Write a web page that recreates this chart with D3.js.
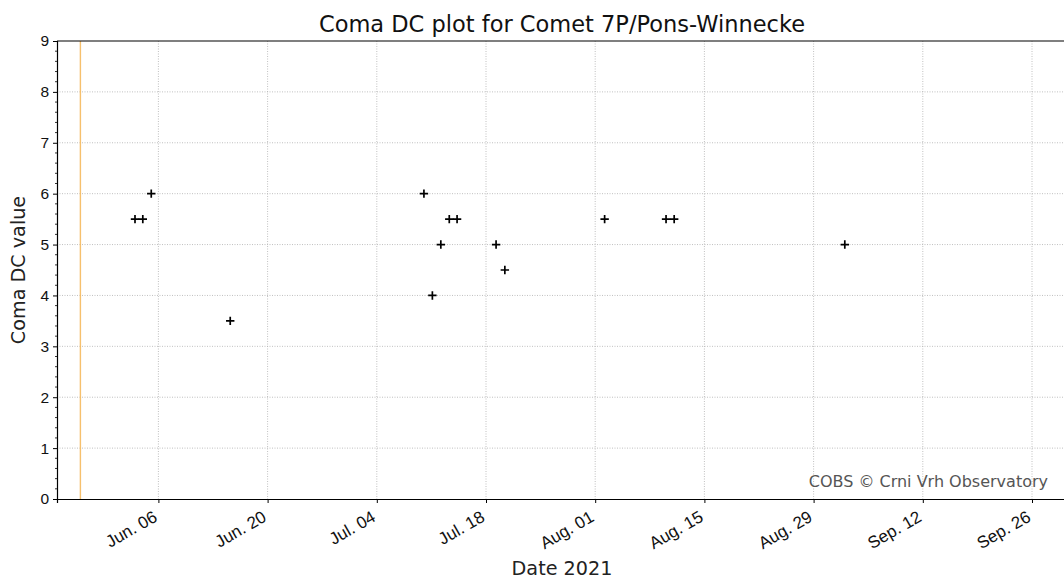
<!DOCTYPE html>
<html>
<head>
<meta charset="utf-8">
<script src="https://cdn.jsdelivr.net/npm/d3@7"></script>
<style>
  html, body { margin: 0; padding: 0; background: #fff; }
  svg { display: block; font-family: "DejaVu Sans", sans-serif; }
</style>
</head>
<body>
<svg id="chart" width="1064" height="580"></svg>
<script>
// ---- data ----
const obsDates = ["2021-06-03T00:00","2021-06-04T00:00","2021-06-05T02:00","2021-06-15T05:00",
  "2021-07-10T01:00","2021-07-11T03:00","2021-07-12T05:00","2021-07-13T07:00","2021-07-14T07:00",
  "2021-07-19T07:00","2021-07-20T10:00","2021-08-02T05:00","2021-08-10T02:00","2021-08-11T03:00",
  "2021-09-02T00:00"];
const dcValues = [5.5, 5.5, 6.0, 3.5, 6.0, 4.0, 5.0, 5.5, 5.5, 5.0, 4.5, 5.5, 5.5, 5.5, 5.0];
const xTickDates = ["2021-06-06","2021-06-20","2021-07-04","2021-07-18","2021-08-01","2021-08-15","2021-08-29","2021-09-12","2021-09-26"];
const xTickLabels = ["Jun. 06","Jun. 20","Jul. 04","Jul. 18","Aug. 01","Aug. 15","Aug. 29","Sep. 12","Sep. 26"];
const yTicks = [0,1,2,3,4,5,6,7,8,9];
const perihelionDate = "2021-05-27";
const xDomain = ["2021-05-24", "2021-10-01"];
const yDomain = [0, 9];
const titleText = "Coma DC plot for Comet 7P/Pons-Winnecke";
const xLabel = "Date 2021";
const yLabel = "Coma DC value";
const credit = "COBS \u00A9 Crni Vrh Observatory";

// ---- layout ----
const svg = d3.select("#chart");
const m = { left: 57, top: 41, bottom: 499 };
const parse = d3.isoParse;
const x = d3.scaleTime().domain(xDomain.map(parse)).range([m.left, m.left + (parse(xDomain[1]) - parse(xDomain[0])) / 864e5 * 7.8]);
const y = d3.scaleLinear().domain(yDomain).range([m.bottom, m.top]);
const right = 1067;

// grid
const grid = svg.append("g");
grid.selectAll("line.gx").data(xTickDates).join("line")
  .attr("x1", d => x(parse(d))).attr("x2", d => x(parse(d)))
  .attr("y1", m.top).attr("y2", m.bottom)
  .attr("stroke", "#b0b0b0").attr("stroke-width", 0.8).attr("stroke-dasharray", "1,1.5");
grid.selectAll("line.gy").data(yTicks.slice(1, -1)).join("line")
  .attr("x1", m.left).attr("x2", right)
  .attr("y1", d => y(d)).attr("y2", d => y(d))
  .attr("stroke", "#b0b0b0").attr("stroke-width", 0.8).attr("stroke-dasharray", "1,1.5");

// perihelion line
svg.append("line")
  .attr("x1", x(parse(perihelionDate))).attr("x2", x(parse(perihelionDate)))
  .attr("y1", m.top).attr("y2", m.bottom)
  .attr("stroke", "#f5b553").attr("stroke-opacity", 0.85).attr("stroke-width", 1.4);

// axes
const xAxis = d3.axisBottom(x).tickValues(xTickDates.map(parse))
  .tickFormat((d, i) => xTickLabels[i]).tickSize(4).tickPadding(5);
const gx = svg.append("g").attr("transform", `translate(0,${m.bottom})`).call(xAxis);
gx.select(".domain").attr("stroke", "#000").attr("stroke-width", 1.2);
gx.selectAll(".tick line").attr("stroke", "#000").attr("stroke-width", 1);
gx.selectAll(".tick text")
  .attr("font-size", 17).attr("fill", "#111")
  .attr("text-anchor", "end")
  .attr("y", 0).attr("x", 0)
  .attr("transform", "translate(-7,10) rotate(-30)")
  .attr("dy", "0.76em");

const yAxis = d3.axisLeft(y).tickValues(yTicks).tickFormat(d3.format("d")).tickSize(4).tickPadding(4);
const gy = svg.append("g").attr("transform", `translate(${m.left},0)`).call(yAxis);
gy.select(".domain").attr("stroke", "#000").attr("stroke-width", 1.2);
gy.selectAll(".tick text").attr("font-size", 15.5).attr("fill", "#111");
// minor ticks
const minor = d3.range(0, 9.0001, 0.2).filter(v => Math.abs(v - Math.round(v)) > 1e-6);
gy.selectAll("line.minor").data(minor).join("line")
  .attr("class", "minor")
  .attr("x1", -2).attr("x2", 0)
  .attr("y1", d => y(d)).attr("y2", d => y(d))
  .attr("stroke", "#000").attr("stroke-width", 0.8);

// top spine
svg.append("line").attr("x1", m.left).attr("x2", right).attr("y1", m.top).attr("y2", m.top)
  .attr("stroke", "#000").attr("stroke-width", 1.2);

// points
const pts = svg.append("g");
const s = 4.2;
const data = obsDates.map((d, i) => ({ date: parse(d), v: dcValues[i] }));
pts.selectAll("path").data(data).join("path")
  .attr("d", d => `M${x(d.date) - s},${y(d.v)}H${x(d.date) + s}M${x(d.date)},${y(d.v) - s}V${y(d.v) + s}`)
  .attr("stroke", "#000").attr("stroke-width", 1.7).attr("fill", "none");

// texts
svg.append("text").attr("x", (m.left + right) / 2).attr("y", 32)
  .attr("text-anchor", "middle").attr("font-size", 22.5).attr("fill", "#111").text(titleText);
svg.append("text").attr("x", (m.left + right) / 2).attr("y", 575)
  .attr("text-anchor", "middle").attr("font-size", 19.2).attr("fill", "#222").text(xLabel);
svg.append("text").attr("transform", `translate(25,${(m.top + m.bottom) / 2}) rotate(-90)`)
  .attr("text-anchor", "middle").attr("font-size", 19.2).attr("fill", "#222").text(yLabel);
svg.append("text").attr("x", 1048).attr("y", 487)
  .attr("text-anchor", "end").attr("font-size", 16).attr("fill", "#555").text(credit);
</script>
</body>
</html>
